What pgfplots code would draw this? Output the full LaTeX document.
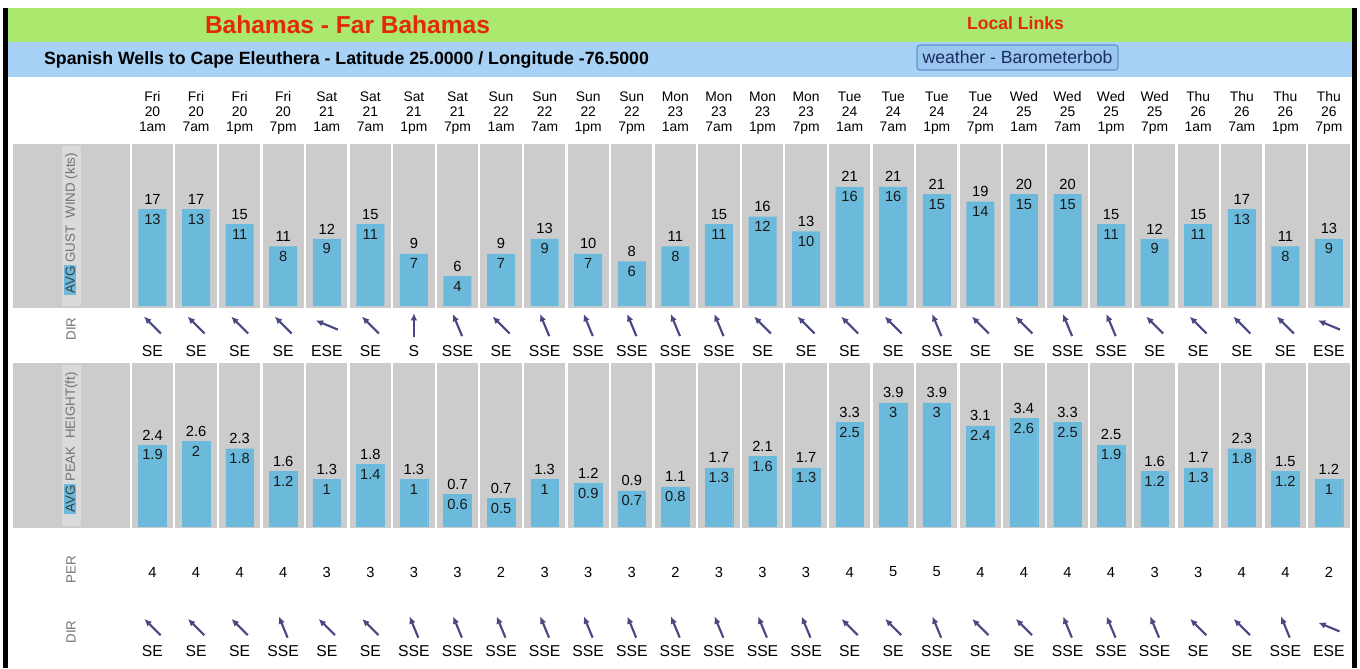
\documentclass[border=0pt]{standalone}
\usepackage{pgfplots}
\pgfplotsset{compat=1.18}
\usepackage{pgfplotstable}
\usepackage{fontspec}
\setmainfont{Liberation Sans}
\usetikzlibrary{arrows.meta}

\definecolor{gband}{RGB}{170,232,110}
\definecolor{bband}{RGB}{168,210,245}
\definecolor{cellgray}{RGB}{204,204,204}
\definecolor{lightstrip}{RGB}{218,218,218}
\definecolor{barblue}{RGB}{107,186,220}
\definecolor{titlered}{RGB}{228,40,10}
\definecolor{arrowc}{RGB}{72,72,130}
\definecolor{labgray}{RGB}{115,115,115}
\definecolor{btnblue}{RGB}{155,198,240}
\definecolor{btnedge}{RGB}{95,145,205}
\definecolor{btntext}{RGB}{25,45,95}

\newcommand{\hdrfont}{\fontsize{10.4}{11.4}\selectfont}
\newcommand{\valfont}{\fontsize{11}{12}\selectfont}
\newcommand{\dirfont}{\fontsize{11.8}{13}\selectfont}
\newcommand{\labfont}{\fontsize{10}{12}\selectfont}

\pgfplotstableread{
i gust avg wdeg wdir hpk havg per sdeg sdir
0 17 13 135 SE 2.4 1.9 4 135 SE
1 17 13 135 SE 2.6 2 4 135 SE
2 15 11 135 SE 2.3 1.8 4 135 SE
3 11 8 135 SE 1.6 1.2 4 157.5 SSE
4 12 9 112.5 ESE 1.3 1 3 135 SE
5 15 11 135 SE 1.8 1.4 3 135 SE
6 9 7 180 S 1.3 1 3 157.5 SSE
7 6 4 157.5 SSE 0.7 0.6 3 157.5 SSE
8 9 7 135 SE 0.7 0.5 2 157.5 SSE
9 13 9 157.5 SSE 1.3 1 3 157.5 SSE
10 10 7 157.5 SSE 1.2 0.9 3 157.5 SSE
11 8 6 157.5 SSE 0.9 0.7 3 157.5 SSE
12 11 8 157.5 SSE 1.1 0.8 2 157.5 SSE
13 15 11 157.5 SSE 1.7 1.3 3 157.5 SSE
14 16 12 135 SE 2.1 1.6 3 157.5 SSE
15 13 10 135 SE 1.7 1.3 3 157.5 SSE
16 21 16 135 SE 3.3 2.5 4 135 SE
17 21 16 135 SE 3.9 3 5 135 SE
18 21 15 157.5 SSE 3.9 3 5 157.5 SSE
19 19 14 135 SE 3.1 2.4 4 135 SE
20 20 15 135 SE 3.4 2.6 4 135 SE
21 20 15 157.5 SSE 3.3 2.5 4 157.5 SSE
22 15 11 157.5 SSE 2.5 1.9 4 157.5 SSE
23 12 9 135 SE 1.6 1.2 3 157.5 SSE
24 15 11 135 SE 1.7 1.3 3 135 SE
25 17 13 135 SE 2.3 1.8 4 135 SE
26 11 8 135 SE 1.5 1.2 4 157.5 SSE
27 13 9 112.5 ESE 1.2 1 2 112.5 ESE
}\data

\begin{document}
\begin{tikzpicture}
\useasboundingbox (0,0) rectangle (1020pt,-501pt);
% ---------- page decoration in pixel coordinates ----------
\begin{scope}[x=0.75pt,y=-0.75pt]
\fill[white] (0,0) rectangle (1360,668);
\fill[gband] (8,8) rectangle (1352,42);
\fill[bband] (8,42) rectangle (1352,77);
\fill[black] (3,8) rectangle (8,668);
\fill[black] (1352,8) rectangle (1357,668);
% label cells
\fill[cellgray] (13,144) rectangle (130,308);
\fill[cellgray] (13,363) rectangle (130,528);
\fill[lightstrip] (62,146) rectangle (81,306);
\fill[lightstrip] (62,365) rectangle (81,526);
% column cells
\foreach \k in {0,...,27}{
  \fill[cellgray] ({131.9+43.571*\k},144) rectangle ({129.5+43.571*(\k+1)},308);
  \fill[cellgray] ({131.9+43.571*\k},363) rectangle ({129.5+43.571*(\k+1)},528);
}
% titles
\node[font=\bfseries\fontsize{18.4}{20}\selectfont, text=titlered] at (347.5,25) {Bahamas - Far Bahamas};
\node[font=\bfseries\fontsize{13.3}{15}\selectfont] at (346.5,59.5) {Spanish Wells to Cape Eleuthera - Latitude 25.0000 / Longitude -76.5000};
\node[font=\bfseries\fontsize{13.2}{15}\selectfont, text=titlered] at (1015.5,23) {Local Links};
\draw[btnedge, fill=btnblue, rounded corners=2pt, line width=0.8pt] (917,45) rectangle (1118,70);
\node[font=\fontsize{13.2}{15}\selectfont, text=btntext] at (1017.5,57.5) {weather - Barometerbob};
% left labels
\node[rotate=90, font=\labfont, text=labgray, inner sep=0pt] at (71,224)
  {{\setlength{\fboxsep}{1pt}\colorbox{barblue}{\textcolor{black!75}{AVG}}}\,GUST\ \ WIND (kts)};
\node[rotate=90, font=\labfont, text=labgray, inner sep=0pt] at (71,443)
  {{\setlength{\fboxsep}{1pt}\colorbox{barblue}{\textcolor{black!75}{AVG}}}\,PEAK\ \ HEIGHT(ft)};
\node[rotate=90, font=\labfont, text=labgray] at (71,329) {DIR};
\node[rotate=90, font=\labfont, text=labgray] at (71,570) {PER};
\node[rotate=90, font=\labfont, text=labgray] at (71,632) {DIR};
\end{scope}

% ---------- wind bars ----------
\begin{axis}[
  at={(98.03pt,-229.5pt)}, anchor=south west,
  scale only axis, width=915pt, height=121.5pt,
  xmin=-0.5, xmax=27.5, ymin=0, ymax=21.74,
  axis line style={draw=none}, tick style={draw=none},
  ytick=\empty, xtick={0,...,27},
  xticklabel pos=upper,
  xticklabels={{Fri\\20\\1am\strut},{Fri\\20\\7am\strut},{Fri\\20\\1pm\strut},{Fri\\20\\7pm\strut},
    {Sat\\21\\1am\strut},{Sat\\21\\7am\strut},{Sat\\21\\1pm\strut},{Sat\\21\\7pm\strut},
    {Sun\\22\\1am\strut},{Sun\\22\\7am\strut},{Sun\\22\\1pm\strut},{Sun\\22\\7pm\strut},
    {Mon\\23\\1am\strut},{Mon\\23\\7am\strut},{Mon\\23\\1pm\strut},{Mon\\23\\7pm\strut},
    {Tue\\24\\1am\strut},{Tue\\24\\7am\strut},{Tue\\24\\1pm\strut},{Tue\\24\\7pm\strut},
    {Wed\\25\\1am\strut},{Wed\\25\\7am\strut},{Wed\\25\\1pm\strut},{Wed\\25\\7pm\strut},
    {Thu\\26\\1am\strut},{Thu\\26\\7am\strut},{Thu\\26\\1pm\strut},{Thu\\26\\7pm\strut}},
  xticklabel style={align=center, font=\hdrfont, inner sep=0pt, yshift=5.5pt},
  clip=false,
]
\addplot[ybar, bar shift=0pt, bar width=21pt, fill=barblue, draw=none,
  nodes near coords, point meta=explicit symbolic,
  every node near coord/.append style={font=\valfont, anchor=center, yshift=-7.5pt, text=black!90}]
  table[x=i, y=avg, meta=avg]{\data};
\addplot[draw=none, mark=none, nodes near coords, point meta=explicit symbolic,
  every node near coord/.append style={font=\valfont, anchor=center, yshift=7.5pt, text=black}]
  table[x=i, y=avg, meta=gust]{\data};
\end{axis}

% ---------- wave bars ----------
\begin{axis}[
  at={(98.03pt,-394.5pt)}, anchor=south west,
  scale only axis, width=915pt, height=122.25pt,
  xmin=-0.5, xmax=27.5, ymin=-0.2225, ymax=4.0445,
  hide axis, clip=false,
]
\addplot[ybar, bar shift=0pt, bar width=20.7pt, fill=barblue, draw=barblue, line width=0.3pt]
  coordinates {(0,-0.2225) (1,-0.2225) (2,-0.2225) (3,-0.2225) (4,-0.2225) (5,-0.2225) (6,-0.2225)
  (7,-0.2225) (8,-0.2225) (9,-0.2225) (10,-0.2225) (11,-0.2225) (12,-0.2225) (13,-0.2225)
  (14,-0.2225) (15,-0.2225) (16,-0.2225) (17,-0.2225) (18,-0.2225) (19,-0.2225) (20,-0.2225)
  (21,-0.2225) (22,-0.2225) (23,-0.2225) (24,-0.2225) (25,-0.2225) (26,-0.2225) (27,-0.2225)};
\addplot[ybar, bar shift=0pt, bar width=20.7pt, fill=barblue, draw=barblue, line width=0.3pt,
  nodes near coords, point meta=explicit symbolic,
  every node near coord/.append style={font=\valfont, anchor=center, yshift=-7.5pt, text=black!90}]
  table[x=i, y=havg, meta=havg]{\data};
\addplot[draw=none, mark=none, nodes near coords, point meta=explicit symbolic,
  every node near coord/.append style={font=\valfont, anchor=center, yshift=7.5pt, text=black}]
  table[x=i, y=havg, meta=hpk]{\data};
\end{axis}

% ---------- directions and periods (y in pixels from the top) ----------
\begin{axis}[
  at={(98.03pt,0pt)}, anchor=north west,
  scale only axis, width=915pt, height=501pt,
  xmin=-0.5, xmax=27.5, ymin=0, ymax=668, y dir=reverse,
  hide axis, clip=false,
]
\addplot[arrowc, line width=1.6pt, -{Latex[length=5.5pt,width=5pt]},
  quiver={u={-24*sin(\thisrow{wdeg})/43.571}, v={24*cos(\thisrow{wdeg})}}]
  table[x expr={\thisrow{i}+12*sin(\thisrow{wdeg})/43.571}, y expr={325-12*cos(\thisrow{wdeg})}]{\data};
\addplot[draw=none, mark=none, nodes near coords, point meta=explicit symbolic,
  every node near coord/.append style={font=\dirfont, anchor=center, text=black}]
  table[x=i, y expr=351.5, meta=wdir]{\data};
\addplot[draw=none, mark=none, nodes near coords, point meta=explicit symbolic,
  every node near coord/.append style={font=\valfont, anchor=center, text=black}]
  table[x=i, y expr=572, meta=per]{\data};
\addplot[arrowc, line width=1.6pt, -{Latex[length=5.5pt,width=5pt]},
  quiver={u={-23*sin(\thisrow{sdeg})/43.571}, v={23*cos(\thisrow{sdeg})}}]
  table[x expr={\thisrow{i}+11.5*sin(\thisrow{sdeg})/43.571}, y expr={627-11.5*cos(\thisrow{sdeg})}]{\data};
\addplot[draw=none, mark=none, nodes near coords, point meta=explicit symbolic,
  every node near coord/.append style={font=\dirfont, anchor=center, text=black}]
  table[x=i, y expr=651.5, meta=sdir]{\data};
\end{axis}
\end{tikzpicture}
\end{document}
